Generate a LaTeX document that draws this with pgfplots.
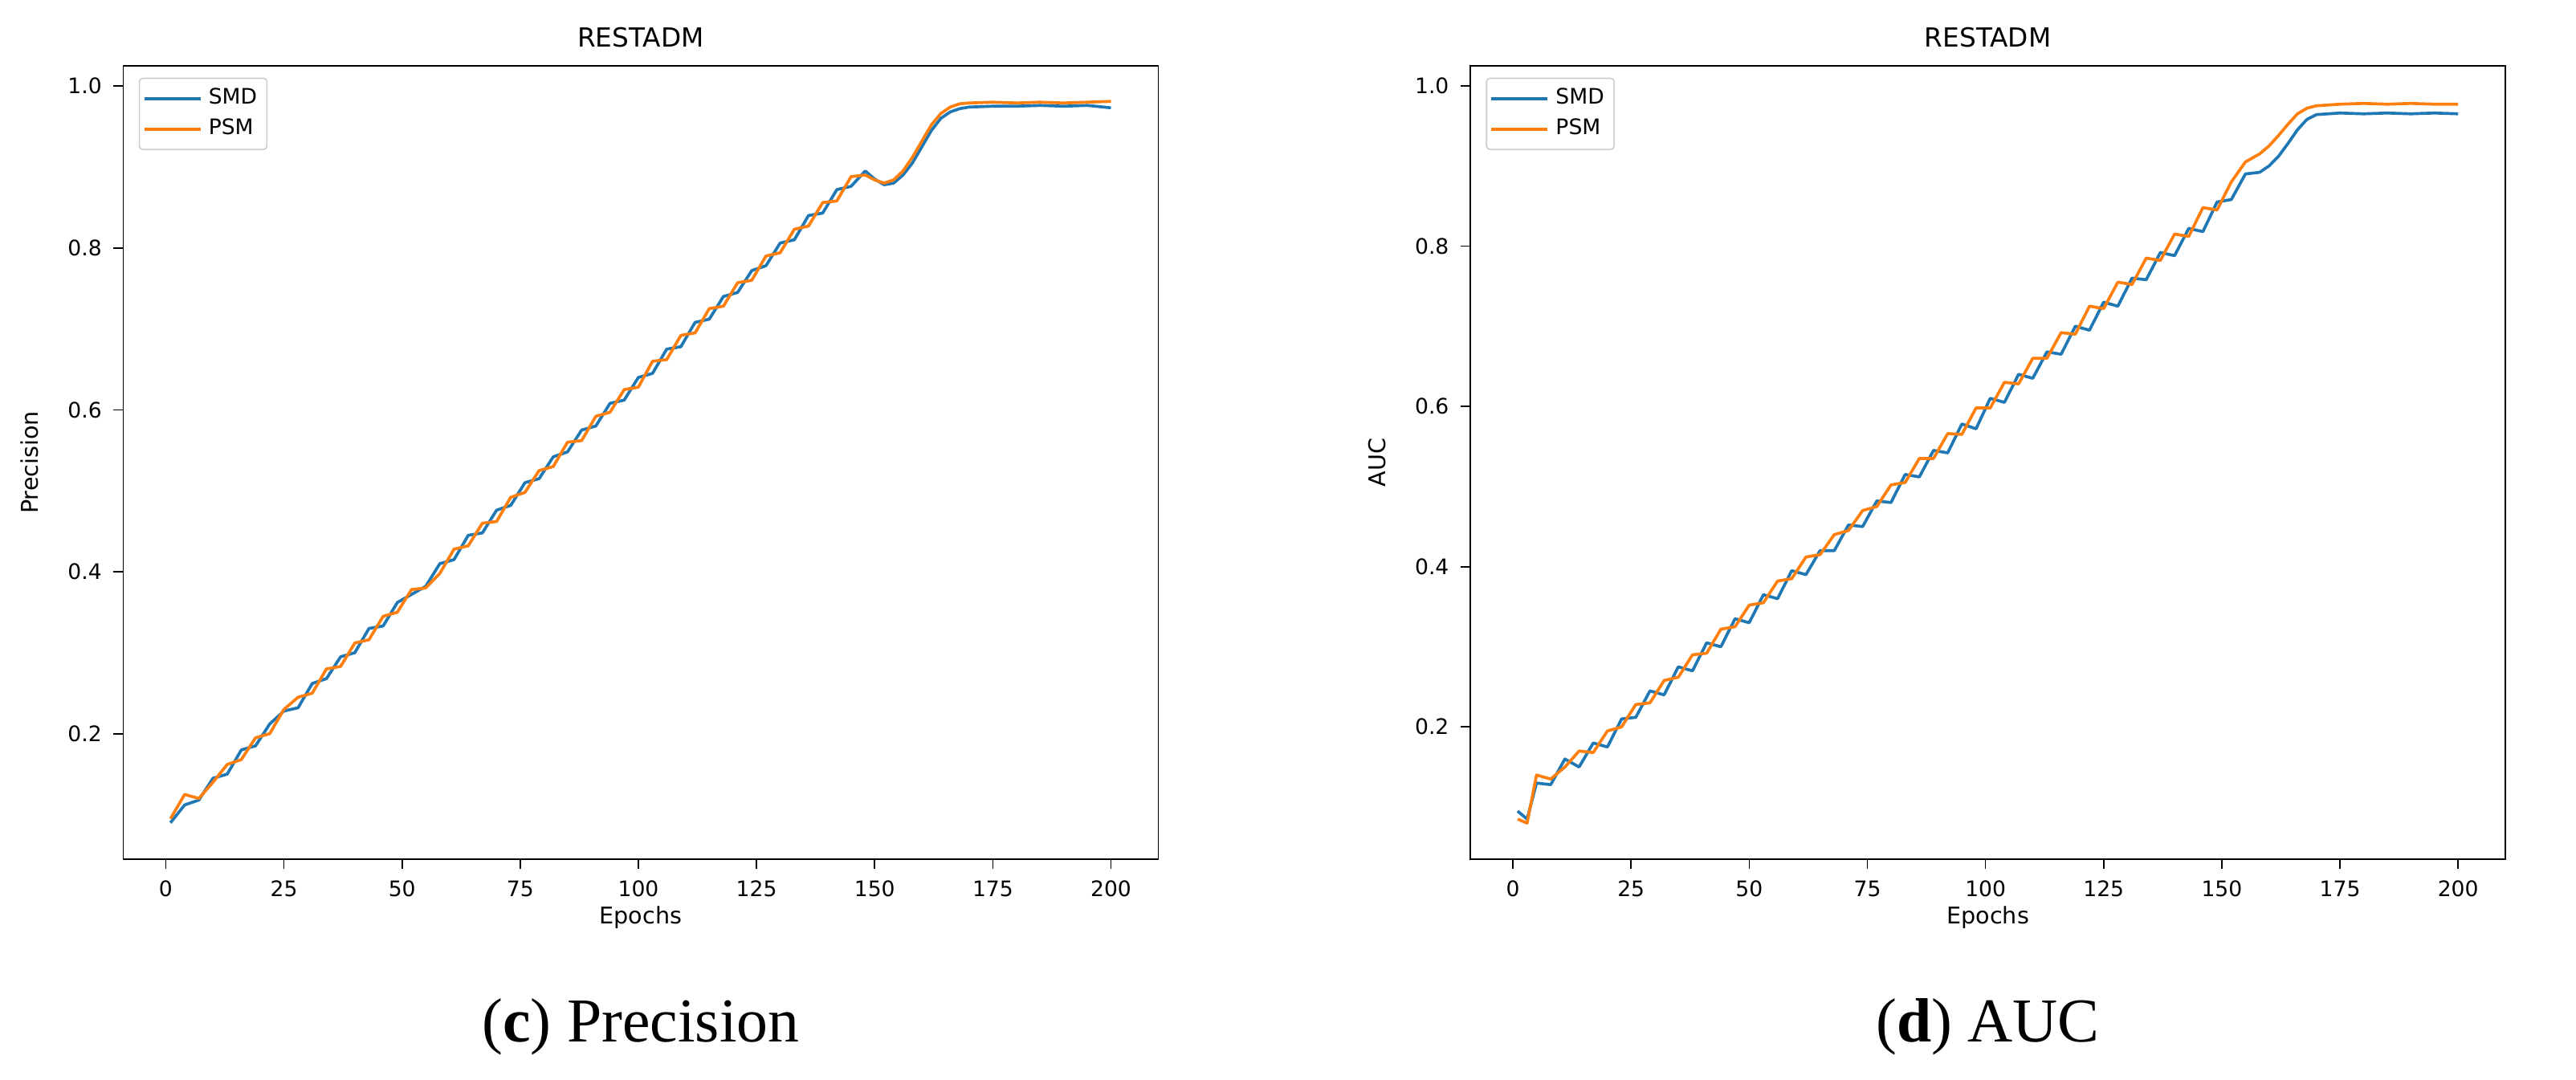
\documentclass[border=0pt]{standalone}
\usepackage{pgfplots}
\pgfplotsset{compat=1.18}
\usepackage{fontspec}
\setmainfont{DejaVu Sans}
\newfontfamily\capfont{Liberation Serif}
\definecolor{c0}{HTML}{1F77B4}
\definecolor{c1}{HTML}{FF7F0E}
\pgfplotsset{mpl/.style={scale only axis,width=315pt,height=241.5pt,
 xmin=-9,xmax=210,xtick={0,25,...,200},ytick={0.2,0.4,...,1.0},
 xtick pos=bottom,ytick pos=left,
 yticklabel style={/pgf/number format/.cd,fixed,fixed zerofill,precision=1},
 tick align=outside,tick style={black,thin},major tick length=3pt,
 every tick label/.append style={font=\fontsize{6.5}{7}\selectfont},
 /pgf/number format/assume math mode=true,
 label style={font=\fontsize{7}{8}\selectfont},
 title style={font=\fontsize{8}{9}\selectfont,yshift=-4pt},
 xlabel={Epochs},xlabel style={yshift=4pt},title={RESTADM},
 legend pos=north west,legend cell align=left,
 legend style={font=\fontsize{6.5}{7}\selectfont,draw=black!20,rounded corners=1pt,inner sep=1pt,row sep=-1pt,at={(0.015,0.985)}},
 legend image post style={line width=1pt},
 every axis plot/.append style={line width=0.9pt,line join=round}}}
\begin{document}
\begin{tikzpicture}
\useasboundingbox (0,0) rectangle (784pt,328.5pt);
\begin{axis}[mpl,at={(37.5pt,67pt)},ymin=0.045,ymax=1.025,ylabel={Precision},ylabel style={yshift=2pt}]
\addplot[c0] coordinates {(1,.090)(4,.112)(7,.118)(10,.145)(13,.150)(16,.180)(19,.185)(22,.212)(25,.228)(28,.232)(31,.262)(34,.268)(37,.295)(40,.300)(43,.330)(46,.333)(49,.362)(52,.372)(55,.382)(58,.410)(61,.415)(64,.445)(67,.448)(70,.476)(73,.482)(76,.510)(79,.515)(82,.542)(85,.548)(88,.575)(91,.580)(94,.608)(97,.612)(100,.640)(103,.645)(106,.675)(109,.678)(112,.708)(115,.712)(118,.740)(121,.745)(124,.772)(127,.778)(130,.806)(133,.810)(136,.840)(139,.843)(142,.872)(145,.876)(148,.895)(150,.885)(152,.878)(154,.880)(156,.890)(158,.905)(160,.925)(162,.945)(164,.960)(166,.968)(168,.972)(170,.974)(175,.975)(180,.975)(185,.976)(190,.975)(195,.976)(200,.973)};
\addlegendentry{SMD}
\addplot[c1] coordinates {(1,.095)(4,.125)(7,.120)(10,.140)(13,.162)(16,.168)(19,.195)(22,.200)(25,.230)(28,.245)(31,.250)(34,.280)(37,.283)(40,.312)(43,.316)(46,.345)(49,.350)(52,.378)(55,.380)(58,.398)(61,.428)(64,.432)(67,.460)(70,.462)(73,.492)(76,.498)(79,.525)(82,.530)(85,.560)(88,.562)(91,.592)(94,.597)(97,.625)(100,.628)(103,.660)(106,.662)(109,.692)(112,.695)(115,.725)(118,.728)(121,.757)(124,.760)(127,.790)(130,.794)(133,.823)(136,.827)(139,.856)(142,.858)(145,.888)(148,.890)(150,.884)(152,.880)(154,.884)(156,.895)(158,.912)(160,.932)(162,.952)(164,.966)(166,.974)(168,.978)(170,.979)(175,.980)(180,.979)(185,.980)(190,.979)(195,.980)(200,.981)};
\addlegendentry{PSM}
\end{axis}
\begin{axis}[mpl,at={(447.5pt,67pt)},ymin=0.035,ymax=1.025,ylabel={AUC},ylabel style={yshift=2pt}]
\addplot[c0] coordinates {(1,.095)(3,.085)(5,.130)(8,.128)(11,.160)(14,.150)(17,.180)(20,.175)(23,.210)(26,.212)(29,.245)(32,.240)(35,.275)(38,.270)(41,.305)(44,.300)(47,.335)(50,.330)(53,.365)(56,.360)(59,.395)(62,.390)(65,.420)(68,.420)(71,.452)(74,.450)(77,.482)(80,.480)(83,.515)(86,.512)(89,.545)(92,.542)(95,.578)(98,.572)(101,.610)(104,.605)(107,.640)(110,.635)(113,.668)(116,.665)(119,.700)(122,.695)(125,.730)(128,.725)(131,.760)(134,.758)(137,.792)(140,.788)(143,.822)(146,.818)(149,.855)(152,.858)(155,.890)(158,.892)(160,.900)(162,.912)(164,.928)(166,.945)(168,.958)(170,.964)(175,.966)(180,.965)(185,.966)(190,.965)(195,.966)(200,.965)};
\addlegendentry{SMD}
\addplot[c1] coordinates {(1,.085)(3,.080)(5,.140)(8,.135)(11,.150)(14,.170)(17,.168)(20,.195)(23,.200)(26,.228)(29,.230)(32,.258)(35,.262)(38,.290)(41,.292)(44,.322)(47,.325)(50,.352)(53,.355)(56,.382)(59,.385)(62,.412)(65,.415)(68,.440)(71,.445)(74,.470)(77,.475)(80,.502)(83,.505)(86,.535)(89,.535)(92,.566)(95,.565)(98,.598)(101,.598)(104,.630)(107,.628)(110,.660)(113,.660)(116,.692)(119,.690)(122,.725)(125,.722)(128,.755)(131,.752)(134,.785)(137,.782)(140,.815)(143,.812)(146,.848)(149,.845)(152,.880)(155,.905)(158,.915)(160,.925)(162,.938)(164,.952)(166,.965)(168,.972)(170,.975)(175,.977)(180,.978)(185,.977)(190,.978)(195,.977)(200,.977)};
\addlegendentry{PSM}
\end{axis}
\node[font=\capfont\fontsize{19}{22}\selectfont] at (195pt,16pt) {(\textbf{c}) Precision};
\node[font=\capfont\fontsize{19}{22}\selectfont] at (605pt,16pt) {(\textbf{d}) AUC};
\end{tikzpicture}
\end{document}
